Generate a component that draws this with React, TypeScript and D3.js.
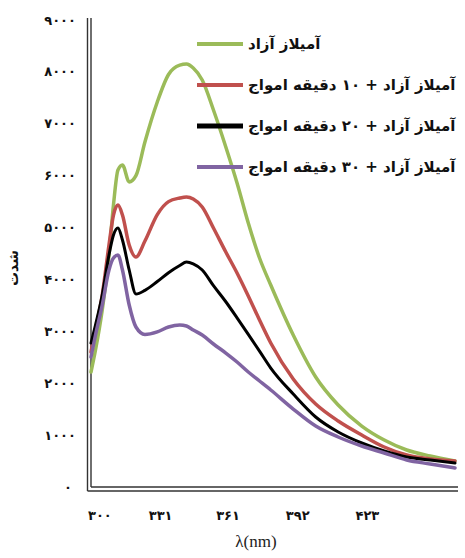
import React from 'react'
import * as d3 from 'd3'

// wavelengths (nm)
const wavelengths = [300, 302, 305, 308, 310, 312, 314, 317, 320, 324, 329.5, 334.5, 339.5, 342.5, 345.5, 349.5, 354.5, 360, 365, 370, 375, 380, 390, 400, 410, 420.5, 430.5, 440.5, 451, 462]

const freeAmylase = [2216, 2640, 3411, 4471, 5434, 6109, 6205, 5880, 6000, 6650, 7420, 7950, 8130, 8151, 8074, 7843, 7265, 6552, 5858, 5087, 4413, 3893, 2929, 2120, 1580, 1175, 906, 713, 597, 501]
const wave10 = [2601, 3025, 3700, 4663, 5241, 5434, 5241, 4663, 4432, 4740, 5250, 5500, 5569, 5588, 5550, 5396, 4991, 4528, 4124, 3681, 3218, 2775, 2081, 1599, 1272, 1002, 771, 617, 540, 501]
const wave20 = [2775, 3122, 3700, 4471, 4856, 4991, 4760, 4182, 3720, 3790, 3960, 4130, 4270, 4336, 4300, 4182, 3880, 3570, 3260, 2940, 2620, 2293, 1792, 1349, 1060, 848, 694, 578, 520, 462]
const wave30 = [2505, 2929, 3507, 4182, 4413, 4471, 4182, 3507, 3083, 2940, 2990, 3083, 3122, 3102, 3025, 2929, 2756, 2582, 2409, 2216, 2043, 1869, 1503, 1175, 964, 790, 655, 520, 443, 366]

const seriesNames = ['آمیلاز آزاد', 'آمیلاز آزاد + ۱۰ دقیقه امواج', 'آمیلاز آزاد + ۲۰ دقیقه امواج', 'آمیلاز آزاد + ۳۰ دقیقه امواج']
const seriesColors = ['#9bbb59', '#c0504d', '#000000', '#8064a2']
const seriesValues = [freeAmylase, wave10, wave20, wave30]

const yTicks = [0, 1000, 2000, 3000, 4000, 5000, 6000, 7000, 8000, 9000]
const yTickLabels = ['۰', '۱۰۰۰', '۲۰۰۰', '۳۰۰۰', '۴۰۰۰', '۵۰۰۰', '۶۰۰۰', '۷۰۰۰', '۸۰۰۰', '۹۰۰۰']
const xTicks = [300, 331, 361, 392, 423]
const xTickLabels = ['۳۰۰', '۳۳۱', '۳۶۱', '۳۹۲', '۴۲۳']

const yTitle = 'شدت'
const xTitle = 'λ(nm)'

export default function App() {
  const width = 465, height = 558
  const x = d3.scaleLinear().domain([300, 462]).range([91, 455])
  const y = d3.scaleLinear().domain([0, 9000]).range([487, 20])

  const line = d3.line<number>()
    .x((d, i) => x(wavelengths[i]))
    .y(d => y(d))
    .curve(d3.curveMonotoneX)

  const faFont = "'DejaVu Sans', sans-serif"
  const x0 = x(300), yb = y(0)

  return (
    <svg width={width} height={height} style={{ position: 'absolute', left: 0, top: 0, background: '#fff' }}>
      {/* double axis lines */}
      <g stroke="#333" strokeWidth={1.4} fill="none">
        <line x1={x0 - 3.5} x2={x0 - 3.5} y1={18} y2={yb + 4} />
        <line x1={x0} x2={x0} y1={18} y2={yb} />
        <line x1={x0 - 3.5} x2={458} y1={yb + 4} y2={yb + 4} />
        <line x1={x0} x2={458} y1={yb} y2={yb} />
      </g>

      {yTicks.map((t, i) => (
        <text key={t} x={i === 0 ? 72 : 76} y={y(t)} dy="0.35em" textAnchor="end"
          fontFamily={faFont} fontWeight="bold" fontSize={13} fill="#111">{yTickLabels[i]}</text>
      ))}
      {xTicks.map((t, i) => (
        <text key={t} x={i === 0 ? x(t) - 3 : x(t)} y={520} textAnchor={i === 0 ? 'start' : 'middle'}
          fontFamily={faFont} fontWeight="bold" fontSize={13} fill="#111">{xTickLabels[i]}</text>
      ))}

      <text transform={`translate(18,${268}) rotate(-90)`} textAnchor="middle"
        fontFamily={faFont} fontWeight="bold" fontSize={14} fill="#111">{yTitle}</text>
      <text x={256} y={547} textAnchor="middle" fontFamily="'Liberation Serif', serif" fontSize={17} fill="#222">{xTitle}</text>

      {seriesValues.map((vals, i) => (
        <path key={i} d={line(vals) || ''} fill="none" stroke={seriesColors[i]}
          strokeWidth={i === 2 ? 3 : 3.5} strokeLinejoin="round" strokeLinecap="round" />
      ))}

      {seriesNames.map((name, i) => {
        const ly = 44 + i * 41
        return (
          <g key={name}>
            <line x1={197} x2={243} y1={ly} y2={ly} stroke={seriesColors[i]} strokeWidth={i === 2 ? 5 : 4} />
            <text x={248} y={ly} dy="0.35em" textAnchor="start" fontFamily={faFont}
              fontWeight="bold" fontSize={15} fill="#111">{name}</text>
          </g>
        )
      })}
    </svg>
  )
}
